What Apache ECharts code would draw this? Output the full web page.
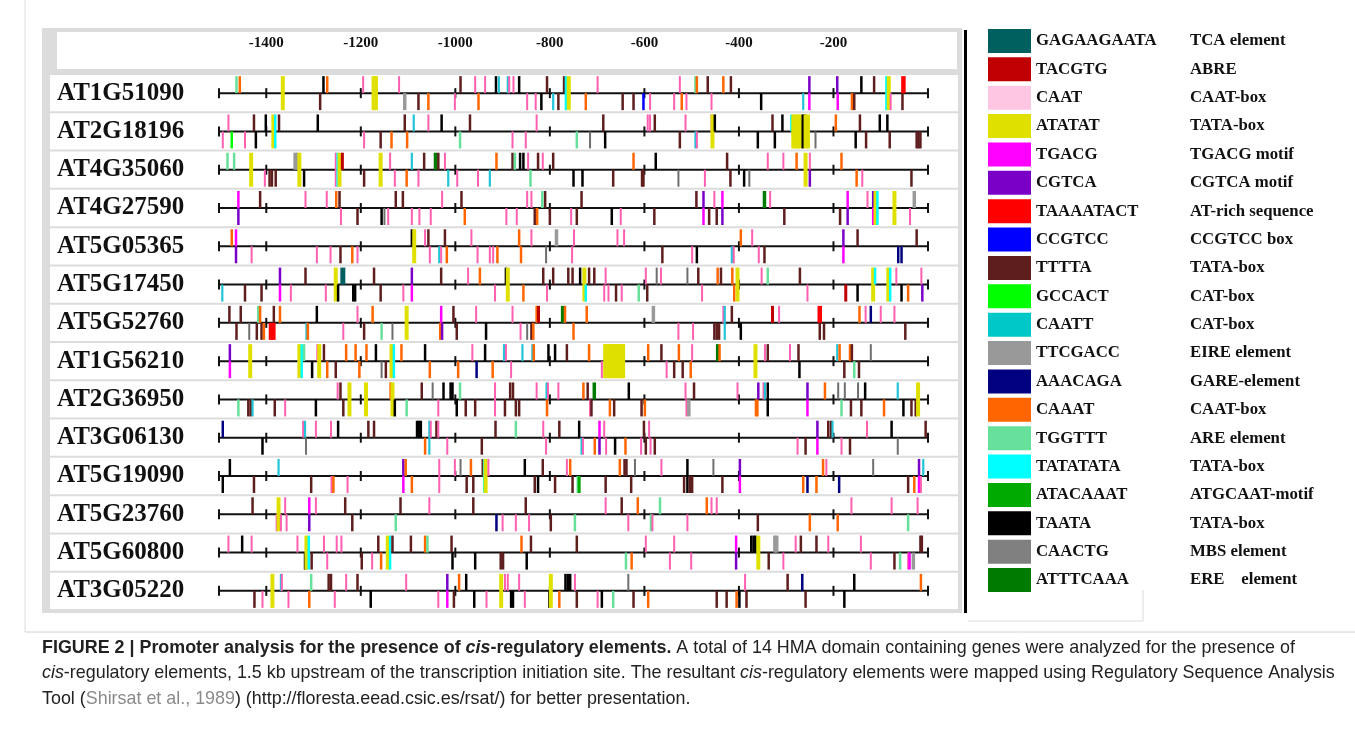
<!DOCTYPE html>
<html>
<head>
<meta charset="utf-8">
<script src="https://cdn.jsdelivr.net/npm/echarts@6/dist/echarts.min.js"></script>
<style>
html, body { margin: 0; padding: 0; background: #fff; }
#chart { width: 1355px; height: 742px; }
</style>
</head>
<body>
<div id="chart"></div>
<script>
const genes = ['AT1G51090', 'AT2G18196', 'AT4G35060', 'AT4G27590', 'AT5G05365', 'AT5G17450', 'AT5G52760',
  'AT1G56210', 'AT2G36950', 'AT3G06130', 'AT5G19090', 'AT5G23760', 'AT5G60800', 'AT3G05220'];
const axisLabels = [-1400, -1200, -1000, -800, -600, -400, -200];
const rowTicks = [-1500, -1400, -1200, -1000, -800, -600, -400, -200, 0];

const motifSeq = ['GAGAAGAATA', 'TACGTG', 'CAAT', 'ATATAT', 'TGACG', 'CGTCA', 'TAAAATACT', 'CCGTCC', 'TTTTA', 'GCCACT',
  'CAATT', 'TTCGACC', 'AAACAGA', 'CAAAT', 'TGGTTT', 'TATATATA', 'ATACAAAT', 'TAATA', 'CAACTG', 'ATTTCAAA'];
const motifName = ['TCA element', 'ABRE', 'CAAT-box', 'TATA-box', 'TGACG motif', 'CGTCA motif', 'AT-rich sequence',
  'CCGTCC box', 'TATA-box', 'CAT-box', 'CAT-box', 'EIRE element', 'GARE-element', 'CAAT-box', 'ARE element',
  'TATA-box', 'ATGCAAT-motif', 'TATA-box', 'MBS element', 'ERE    element'];

// colours: marks in the map, swatches in the key (CAAT is lighter in the key)
const motifColor = ['#005f5f', '#c00000', '#ff5fb0', '#e0e000', '#ff00ff', '#7a00c8', '#ff0000', '#0000ff', '#5e1e1e', '#00ff00',
  '#22c4d8', '#9a9a9a', '#000080', '#ff6600', '#66e09a', '#00ffff', '#00aa00', '#000000', '#6e6e6e', '#007a00'];
const swatchColor = ['#005f5f', '#c00000', '#ffc6e3', '#e0e000', '#ff00ff', '#7a00c8', '#ff0000', '#0000ff', '#5e1e1e', '#00ff00',
  '#00c8c8', '#999999', '#000080', '#ff6600', '#66e09a', '#00ffff', '#00aa00', '#000000', '#808080', '#007a00'];
const markWidth = [5, 3, 2, 4, 2.5, 2.5, 4.5, 2.5, 2.5, 2.5, 2.2, 3.5, 2.5, 2.5, 2.5, 2.5, 3, 2.5, 2, 3.5];

// [position bp, strand (1 upper, -1 lower, 0 both), motif index]
const m_AT1G51090 = [[-1463,1,14],[-1456,1,13],[-1365,0,3],[-1286,-1,8],[-1279,1,17],[-1271,1,13],[-1195,1,2],[-1173,0,3],[-1168,0,3],
  [-1119,1,2],[-1107,-1,11],[-1078,-1,8],[-1057,-1,13],[-1001,-1,2],[-989,1,8],[-958,1,2],[-951,-1,13],[-937,1,2],[-914,1,17],
  [-908,1,10],[-889,1,10],[-886,1,2],[-877,1,2],[-865,1,17],[-848,-1,2],[-830,-1,2],[-818,-1,17],[-806,1,8],[-793,-1,10],
  [-782,-1,8],[-770,1,8],[-766,0,15],[-760,0,3],[-724,-1,13],[-699,1,2],[-646,-1,8],[-623,-1,8],[-602,-1,7],[-588,-1,2],
  [-537,-1,2],[-525,1,2],[-521,-1,13],[-511,-1,2],[-492,1,14],[-489,1,13],[-466,1,8],[-458,-1,2],[-433,1,13],[-417,1,8],
  [-353,-1,17],[-264,-1,10],[-251,1,5],[-251,-1,4],[-192,1,5],[-191,-1,4],[-161,-1,13],[-156,-1,8],[-141,1,17],[-114,1,8],
  [-88,0,15],[-83,0,3],[-79,-1,2],[-54,-1,8],[-52,1,6]];
const m_AT2G18196 = [[-1492,-1,2],[-1480,1,2],[-1473,-1,9],[-1445,-1,2],[-1426,1,8],[-1422,-1,17],[-1401,1,17],[-1385,0,3],
  [-1381,0,15],[-1373,1,8],[-1291,1,17],[-1193,-1,2],[-1158,-1,8],[-1135,-1,13],[-1107,1,8],[-1102,-1,13],[-1088,1,10],
  [-1057,1,2],[-1029,1,17],[-990,-1,14],[-969,1,8],[-879,-1,2],[-851,-1,2],[-828,1,2],[-743,-1,14],[-715,-1,18],[-687,1,8],
  [-683,-1,17],[-593,1,2],[-588,1,2],[-578,1,8],[-525,-1,8],[-513,1,2],[-492,-1,10],[-489,-1,2],[-458,1,2],[-456,0,3],
  [-451,1,17],[-360,-1,17],[-329,1,8],[-324,-1,17],[-308,1,17],[-289,1,15],[-285,0,3],[-280,0,3],[-275,0,3],[-270,0,3],
  [-265,0,17],[-261,1,17],[-259,0,3],[-254,0,3],[-238,-1,18],[-195,1,13],[-153,-1,17],[-144,1,8],[-131,-1,8],[-102,1,17],
  [-86,1,17],[-81,-1,8],[-24,-1,8],[-20,-1,8],[-16,-1,8]];
const m_AT4G35060 = [[-1482,1,14],[-1468,1,14],[-1432,0,3],[-1403,-1,2],[-1393,-1,8],[-1388,-1,8],[-1380,-1,8],[-1339,1,11],
  [-1335,1,11],[-1330,0,3],[-1320,-1,17],[-1253,0,2],[-1249,0,15],[-1245,0,3],[-1239,1,1],[-1193,-1,8],[-1158,0,3],[-1138,1,2],
  [-1128,-1,2],[-1103,-1,13],[-1092,1,10],[-1078,-1,2],[-1066,1,8],[-1042,1,19],[-1036,1,8],[-1022,1,2],[-1015,-1,10],
  [-996,-1,2],[-952,-1,2],[-927,-1,10],[-913,1,13],[-879,1,8],[-874,1,14],[-863,1,17],[-856,1,17],[-846,1,2],[-841,-1,14],
  [-825,1,8],[-815,1,2],[-793,1,8],[-750,-1,17],[-731,-1,17],[-666,-1,8],[-623,1,13],[-605,-1,8],[-602,-1,8],[-576,1,17],
  [-528,-1,18],[-472,-1,2],[-425,1,8],[-418,-1,8],[-389,-1,17],[-378,-1,18],[-339,1,2],[-306,1,2],[-278,1,13],[-259,0,3],
  [-250,1,2],[-250,-1,5],[-183,1,13],[-151,-1,13],[-139,-1,2],[-35,-1,8]];
const m_AT4G27590 = [[-1459,1,4],[-1459,-1,5],[-1413,1,8],[-1317,1,2],[-1272,1,2],[-1252,1,13],[-1245,1,8],[-1242,-1,2],
  [-1207,-1,8],[-1156,-1,17],[-1150,-1,18],[-1142,-1,2],[-1126,1,8],[-1111,1,8],[-1092,-1,2],[-1076,-1,2],[-1052,-1,2],
  [-1028,1,2],[-987,1,8],[-980,-1,13],[-892,-1,2],[-870,-1,2],[-848,1,2],[-839,1,2],[-832,-1,8],[-827,-1,13],[-816,1,14],
  [-810,1,8],[-800,-1,8],[-755,-1,2],[-743,-1,8],[-733,1,8],[-669,-1,17],[-650,-1,2],[-579,-1,8],[-490,1,8],[-475,1,5],
  [-475,-1,4],[-463,-1,8],[-452,1,2],[-447,-1,8],[-435,1,4],[-435,-1,5],[-346,1,19],[-334,1,2],[-304,-1,8],[-186,-1,8],
  [-170,1,4],[-170,-1,5],[-128,1,2],[-116,1,5],[-116,-1,4],[-111,0,3],[-107,0,15],[-71,0,3],[-38,-1,2],[-29,1,11]];
const m_AT5G05365 = [[-1473,1,13],[-1464,1,4],[-1464,-1,5],[-1431,-1,2],[-1293,-1,2],[-1264,-1,2],[-1243,-1,8],[-1218,-1,13],
  [-1207,-1,2],[-1092,1,17],[-1087,0,3],[-1064,1,2],[-1057,1,8],[-1054,-1,2],[-1034,-1,10],[-1030,-1,2],[-1022,1,8],
  [-1018,-1,13],[-966,1,2],[-953,-1,2],[-927,-1,2],[-920,-1,2],[-911,-1,13],[-865,1,13],[-861,-1,13],[-839,1,2],[-808,-1,18],
  [-786,1,11],[-753,-1,2],[-749,1,2],[-657,1,2],[-643,1,2],[-562,-1,8],[-499,-1,2],[-489,-1,17],[-415,-1,10],[-411,-1,2],
  [-396,1,13],[-372,1,2],[-358,-1,2],[-346,-1,8],[-179,1,5],[-179,-1,4],[-149,1,8],[-63,-1,12],[-56,-1,12],[-24,1,8]];
const m_AT5G17450 = [[-1493,-1,10],[-1445,-1,8],[-1410,-1,8],[-1371,1,5],[-1371,-1,4],[-1348,-1,2],[-1317,1,8],[-1274,-1,2],
  [-1253,0,3],[-1248,-1,17],[-1238,1,0],[-1216,-1,17],[-1212,-1,17],[-1172,1,8],[-1158,-1,8],[-1110,-1,2],[-1092,1,5],
  [-1092,-1,4],[-1030,1,8],[-973,1,2],[-948,1,13],[-916,-1,2],[-893,1,17],[-889,0,3],[-856,-1,13],[-814,1,8],[-806,-1,2],
  [-793,1,8],[-761,1,8],[-752,1,8],[-736,1,17],[-727,0,3],[-724,-1,15],[-717,1,8],[-706,1,8],[-685,-1,2],[-682,1,2],
  [-676,-1,2],[-660,-1,8],[-648,-1,2],[-612,-1,14],[-597,1,2],[-594,-1,8],[-574,1,18],[-565,1,2],[-509,1,18],[-486,1,8],
  [-478,-1,2],[-445,1,13],[-438,1,8],[-414,1,13],[-410,-1,13],[-403,0,3],[-352,1,2],[-339,1,14],[-271,1,8],[-255,-1,2],
  [-174,-1,1],[-149,-1,17],[-116,0,3],[-112,1,15],[-84,0,3],[-80,0,15],[-67,1,2],[-56,-1,17],[-42,-1,13],[-14,1,2],[-12,-1,5]];
const m_AT5G52760 = [[-1478,1,8],[-1463,-1,8],[-1454,1,8],[-1436,-1,18],[-1420,-1,8],[-1417,1,14],[-1413,1,13],[-1410,-1,8],
  [-1405,-1,13],[-1384,1,8],[-1390,-1,6],[-1385,-1,6],[-1371,1,13],[-1315,-1,10],[-1312,-1,13],[-1293,1,17],[-1237,-1,2],
  [-1207,1,2],[-1193,-1,8],[-1175,1,13],[-1156,-1,14],[-1133,-1,18],[-1103,0,3],[-1030,1,4],[-1032,-1,13],[-1028,-1,5],
  [-1004,1,8],[-997,-1,8],[-956,1,2],[-935,-1,17],[-879,1,2],[-862,-1,2],[-848,-1,18],[-839,-1,8],[-835,-1,13],[-828,1,13],
  [-824,1,1],[-773,1,19],[-768,1,13],[-750,-1,13],[-722,1,13],[-581,1,11],[-528,-1,2],[-497,-1,2],[-452,-1,8],[-447,-1,8],
  [-442,-1,8],[-433,1,2],[-430,0,10],[-415,1,8],[-396,-1,17],[-329,1,1],[-315,1,2],[-229,1,6],[-229,-1,8],[-220,-1,8],
  [-145,1,13],[-132,1,2],[-121,1,12],[-100,1,2],[-71,1,2],[-48,-1,8]];
const m_AT1G56210 = [[-1477,1,5],[-1477,-1,4],[-1434,0,3],[-1330,0,3],[-1325,0,15],[-1320,1,14],[-1303,-1,17],[-1292,1,2],
  [-1288,0,3],[-1278,1,8],[-1271,-1,13],[-1253,-1,8],[-1231,1,13],[-1211,1,13],[-1203,-1,13],[-1188,1,13],[-1168,1,17],
  [-1156,-1,18],[-1147,-1,8],[-1135,0,3],[-1130,0,15],[-1114,1,13],[-1064,1,17],[-1054,-1,13],[-994,-1,13],[-964,1,2],
  [-955,-1,12],[-937,1,17],[-921,-1,13],[-897,1,10],[-893,1,2],[-882,-1,2],[-858,1,10],[-837,1,10],[-834,1,13],[-803,1,17],
  [-789,1,17],[-764,1,8],[-717,1,13],[-690,-1,2],[-683,0,3],[-679,0,3],[-675,0,3],[-671,0,3],[-667,0,3],[-663,0,3],
  [-659,0,3],[-655,0,3],[-651,0,3],[-647,0,3],[-645,0,3],[-592,1,13],[-564,1,8],[-553,-1,2],[-537,-1,8],[-527,1,13],
  [-519,-1,8],[-502,-1,13],[-499,1,2],[-445,1,19],[-441,1,13],[-365,0,3],[-345,1,2],[-339,1,8],[-292,1,2],[-274,1,8],
  [-272,-1,17],[-192,1,10],[-187,1,13],[-177,-1,8],[-165,1,13],[-161,1,8],[-156,-1,14],[-146,-1,8],[-121,1,18]];
const m_AT2G36950 = [[-1459,-1,14],[-1438,-1,8],[-1433,-1,8],[-1429,-1,10],[-1382,-1,8],[-1360,-1,2],[-1295,-1,17],
  [-1249,1,2],[-1243,1,8],[-1237,-1,8],[-1224,0,3],[-1189,0,3],[-1137,1,13],[-1133,0,3],[-1128,-1,17],[-1103,-1,14],
  [-1071,1,8],[-1048,1,18],[-1036,-1,2],[-1025,1,17],[-1010,1,17],[-1006,1,17],[-997,-1,17],[-990,1,14],[-978,-1,8],
  [-958,-1,8],[-916,0,2],[-895,-1,8],[-884,1,8],[-878,1,8],[-872,-1,8],[-865,-1,8],[-828,1,2],[-807,1,10],[-804,1,2],
  [-806,-1,13],[-782,1,2],[-729,1,13],[-720,1,8],[-715,-1,2],[-712,-1,8],[-706,1,19],[-673,-1,13],[-664,-1,8],[-633,1,17],
  [-606,-1,8],[-599,-1,13],[-513,1,2],[-511,-1,2],[-506,-1,11],[-495,1,8],[-403,1,2],[-364,-1,13],[-361,-1,13],[-359,1,5],
  [-348,1,2],[-345,1,10],[-339,0,17],[-255,1,5],[-255,-1,4],[-218,1,13],[-190,1,18],[-183,-1,14],[-176,1,18],[-163,-1,8],
  [-148,1,18],[-141,-1,8],[-133,1,17],[-93,-1,13],[-64,1,10],[-52,-1,17],[-35,-1,8],[-26,-1,8],[-21,0,3]];
const m_AT3G06130 = [[-1492,1,12],[-1408,-1,17],[-1322,1,2],[-1318,1,10],[-1316,-1,18],[-1295,1,2],[-1263,1,2],[-1248,1,17],
  [-1184,1,8],[-1172,1,8],[-1081,1,17],[-1077,1,17],[-1073,1,17],[-1064,-1,13],[-1055,0,10],[-1052,1,2],[-1040,1,8],
  [-1036,1,2],[-1017,-1,2],[-944,-1,8],[-915,1,8],[-872,1,14],[-814,1,2],[-808,-1,2],[-780,1,8],[-738,1,17],[-733,-1,10],
  [-730,-1,2],[-705,-1,13],[-695,1,4],[-695,-1,5],[-685,1,2],[-681,-1,2],[-662,-1,17],[-640,-1,13],[-607,-1,2],[-601,1,8],
  [-597,-1,8],[-590,1,2],[-587,-1,2],[-578,-1,8],[-276,-1,2],[-259,-1,8],[-234,1,5],[-234,-1,4],[-211,1,8],[-205,1,8],
  [-202,1,10],[-183,-1,2],[-165,-1,8],[-129,1,2],[-77,1,17],[-64,-1,18],[-5,1,8]];
const m_AT5G19090 = [[-1492,-1,17],[-1477,1,17],[-1426,-1,8],[-1374,1,10],[-1305,-1,8],[-1262,-1,2],[-1258,-1,13],
  [-1228,-1,2],[-1110,1,5],[-1110,-1,4],[-1105,1,13],[-1092,-1,13],[-1034,0,2],[-1001,1,2],[-989,1,18],[-976,-1,8],
  [-967,1,13],[-962,-1,8],[-942,1,8],[-939,0,15],[-936,0,3],[-930,1,2],[-853,1,17],[-832,-1,8],[-825,-1,17],[-815,1,8],
  [-789,-1,8],[-764,1,2],[-757,1,13],[-752,-1,8],[-741,-1,14],[-738,-1,16],[-682,-1,8],[-652,1,13],[-642,1,8],[-638,1,8],
  [-628,-1,8],[-620,1,18],[-564,1,2],[-516,-1,8],[-509,1,17],[-509,-1,17],[-504,-1,8],[-499,-1,8],[-454,1,18],[-435,-1,8],
  [-398,1,5],[-398,-1,4],[-264,-1,13],[-255,-1,12],[-236,-1,13],[-222,1,13],[-215,1,2],[-188,-1,12],[-116,1,18],[-42,-1,8],
  [-29,-1,13],[-19,1,5],[-19,-1,4],[-15,-1,2],[-10,1,10]];
const m_AT5G23760 = [[-1429,1,8],[-1378,-1,2],[-1374,0,3],[-1369,-1,2],[-1360,1,2],[-1357,-1,2],[-1309,1,4],[-1309,-1,5],
  [-1295,1,2],[-1233,1,8],[-1218,-1,8],[-1126,-1,14],[-1116,1,8],[-1055,1,2],[-962,1,8],[-913,-1,12],[-900,-1,2],
  [-872,-1,2],[-851,1,8],[-844,-1,2],[-798,-1,8],[-747,-1,14],[-682,1,2],[-648,1,8],[-634,-1,2],[-614,1,13],[-586,-1,14],
  [-583,-1,2],[-567,1,14],[-509,-1,2],[-468,1,13],[-458,1,2],[-447,1,2],[-360,-1,8],[-250,-1,13],[-191,-1,13],[-162,1,2],
  [-77,1,2],[-42,-1,14],[-22,1,2]];
const m_AT5G60800 = [[-1480,1,2],[-1451,1,17],[-1431,1,2],[-1334,1,2],[-1318,-1,17],[-1315,0,3],[-1310,0,15],[-1304,-1,8],
  [-1278,1,2],[-1271,-1,2],[-1251,1,2],[-1241,1,2],[-1198,-1,8],[-1176,-1,2],[-1163,1,8],[-1157,-1,13],[-1143,0,3],
  [-1138,0,15],[-1133,1,8],[-1094,1,8],[-1064,1,13],[-1059,1,14],[-1008,1,8],[-1006,-1,17],[-958,-1,17],[-904,-1,8],
  [-899,-1,8],[-860,1,13],[-849,-1,17],[-840,1,8],[-743,1,8],[-639,-1,14],[-627,-1,13],[-597,1,2],[-546,-1,2],[-537,1,2],
  [-501,-1,2],[-406,1,4],[-406,-1,5],[-374,1,17],[-369,1,17],[-365,1,17],[-359,0,3],[-337,-1,8],[-324,1,11],[-320,1,11],
  [-306,-1,2],[-280,1,2],[-269,1,8],[-236,1,8],[-211,1,2],[-142,1,2],[-121,-1,2],[-71,-1,8],[-59,-1,14],[-42,-1,2],
  [-39,-1,4],[-31,-1,11],[-16,1,8],[-13,1,8]];
const m_AT3G05220 = [[-1425,-1,8],[-1408,-1,2],[-1387,0,3],[-1369,1,10],[-1367,1,2],[-1353,-1,2],[-1309,-1,13],[-1305,1,14],
  [-1268,1,8],[-1263,1,8],[-1255,-1,2],[-1231,1,2],[-1207,1,8],[-1179,-1,17],[-1104,1,2],[-1036,-1,2],[-1017,1,5],
  [-1017,-1,4],[-1003,-1,8],[-992,1,13],[-977,1,17],[-960,-1,17],[-934,-1,2],[-903,0,3],[-895,1,2],[-889,1,2],[-882,-1,17],
  [-878,-1,17],[-865,1,2],[-853,-1,2],[-801,-1,17],[-798,0,3],[-780,-1,13],[-767,1,17],[-762,1,17],[-757,1,17],[-747,1,2],
  [-743,-1,8],[-699,-1,2],[-690,-1,17],[-666,-1,14],[-634,1,18],[-623,-1,8],[-592,-1,13],[-447,-1,8],[-426,-1,8],
  [-405,-1,13],[-399,-1,17],[-387,1,2],[-384,-1,8],[-297,1,8],[-266,1,12],[-259,-1,8],[-177,-1,17],[-156,1,17],[-15,1,13]];

const geneMarks = [m_AT1G51090, m_AT2G18196, m_AT4G35060, m_AT4G27590, m_AT5G05365, m_AT5G17450, m_AT5G52760,
  m_AT1G56210, m_AT2G36950, m_AT3G06130, m_AT5G19090, m_AT5G23760, m_AT5G60800, m_AT3G05220];

const serif = "'Liberation Serif', 'Times New Roman', serif";
const sans = "'Liberation Sans', Arial, sans-serif";
const markData = [];
geneMarks.forEach((list, row) => list.forEach(m => markData.push([m[0], row, m[1], m[2]])));
const rowData = genes.map((g, i) => [0, i]);

function renderStrip(params, api) {
  const c = api.coord([0, api.value(1)]);
  const band = api.size([0, 1])[1];
  return { type: 'rect', shape: { x: 50, y: c[1] - band / 2 + 1, width: 908, height: band - 2 }, style: { fill: '#fff' } };
}

function renderRow(params, api) {
  const row = api.value(1);
  const a = api.coord([-1500, row]);
  const b = api.coord([0, row]);
  const children = [{ type: 'line', shape: { x1: a[0], y1: a[1], x2: b[0], y2: b[1] }, style: { stroke: '#111', lineWidth: 2 } }];
  rowTicks.forEach(t => {
    const p = api.coord([t, row]);
    children.push({ type: 'line', shape: { x1: p[0], y1: p[1] - 5, x2: p[0], y2: p[1] + 5 }, style: { stroke: '#111', lineWidth: 2 } });
  });
  return { type: 'group', children: children };
}

function renderMark(params, api) {
  const p = api.coord([api.value(0), api.value(1)]);
  const strand = api.value(2);
  const t = api.value(3);
  const w = markWidth[t];
  const h = 17;
  const y0 = strand === -1 ? p[1] : p[1] - h;
  return {
    type: 'rect',
    shape: { x: p[0] - w / 2, y: y0, width: w, height: strand === 0 ? 2 * h : h },
    style: { fill: motifColor[t] }
  };
}

const legendEls = [];
motifSeq.forEach((s, i) => {
  const yc = 41 + i * 28.37;
  legendEls.push({ type: 'rect', z: 5, shape: { x: 988, y: yc - 12, width: 43, height: 24 }, style: { fill: swatchColor[i] } });
  legendEls.push({ type: 'text', z: 5, x: 1036, y: yc, style: { text: s, font: 'bold 16.8px ' + serif, fill: '#111', textVerticalAlign: 'middle' } });
  legendEls.push({ type: 'text', z: 5, x: 1190, y: yc, style: { text: motifName[i], font: 'bold 16.8px ' + serif, fill: '#111', textVerticalAlign: 'middle' } });
});

const cap = 17.9;
const lh = 25.5;
const caption = '{b|FIGURE 2 | Promoter analysis for the presence of }{bi|cis}{b|-regulatory elements.} A total of 14 HMA domain containing genes were analyzed for the presence of\n' +
  '{i|cis}-regulatory elements, 1.5 kb upstream of the transcription initiation site. The resultant {i|cis}-regulatory elements were mapped using Regulatory Sequence Analysis\n' +
  'Tool ({g|Shirsat et al., 1989}) (http://floresta.eead.csic.es/rsat/) for better presentation.';

const chart = echarts.init(document.getElementById('chart'), null, { renderer: 'canvas' });
chart.setOption({
  animation: false,
  backgroundColor: '#fff',
  grid: { left: 219, top: 74, width: 709, height: 536 },
  xAxis: [{
    type: 'value', position: 'top', offset: 14, min: -1500, max: 0, z: 10,
    axisLine: { lineStyle: { color: '#333', width: 2.5 } },
    axisTick: { customValues: axisLabels, length: 5, lineStyle: { color: '#333', width: 2 } },
    axisLabel: { customValues: axisLabels, formatter: v => String(v), margin: 9, color: '#111', fontFamily: serif, fontWeight: 'bold', fontSize: 15 },
    splitLine: { show: false }
  }, {
    type: 'value', position: 'top', offset: 14, min: -1500, max: 0, z: 10,
    axisLine: { show: false },
    axisTick: { customValues: axisLabels, inside: true, length: 4, lineStyle: { color: '#333', width: 2 } },
    axisLabel: { show: false },
    splitLine: { show: false }
  }],
  yAxis: {
    type: 'category', data: genes, inverse: true, z: 10,
    axisLine: { show: false }, axisTick: { show: false }, splitLine: { show: false },
    axisLabel: { align: 'left', margin: 162, color: '#111', fontFamily: serif, fontWeight: 'bold', fontSize: 25 }
  },
  graphic: [
    { type: 'rect', z: -10, shape: { x: 42, y: 28, width: 920, height: 585 }, style: { fill: '#dcdcdc' } },
    { type: 'rect', z: -9, shape: { x: 57, y: 32, width: 900, height: 37 }, style: { fill: '#fff' } },
    { type: 'rect', z: 5, shape: { x: 964, y: 30, width: 3, height: 583 }, style: { fill: '#000' } },
    { type: 'line', z: 5, shape: { x1: 25, y1: 0, x2: 25, y2: 632 }, style: { stroke: '#dcdcdc', lineWidth: 1 } },
    { type: 'line', z: 5, shape: { x1: 25, y1: 632, x2: 1355, y2: 632 }, style: { stroke: '#d0d0d0', lineWidth: 1 } },
    { type: 'polyline', z: 5, shape: { points: [[968, 621], [1143, 621], [1143, 590]] }, style: { stroke: '#dadada', lineWidth: 1, fill: null } },
    {
      type: 'text', z: 5, x: 42, y: 635,
      style: {
        text: caption, fill: '#222', font: cap + 'px ' + sans, lineHeight: lh,
        rich: {
          b: { fontWeight: 'bold', fontSize: cap, fontFamily: sans, fill: '#222', lineHeight: lh },
          bi: { fontWeight: 'bold', fontStyle: 'italic', fontSize: cap, fontFamily: sans, fill: '#222', lineHeight: lh },
          i: { fontStyle: 'italic', fontSize: cap, fontFamily: sans, fill: '#222', lineHeight: lh },
          g: { fontSize: cap, fontFamily: sans, fill: '#8a8a8a', lineHeight: lh }
        }
      }
    }
  ].concat(legendEls),
  series: [
    { type: 'custom', name: 'strips', renderItem: renderStrip, data: rowData, encode: { x: 0, y: 1 }, silent: true, z: 1 },
    { type: 'custom', name: 'rows', renderItem: renderRow, data: rowData, encode: { x: 0, y: 1 }, silent: true, z: 2 },
    { type: 'custom', name: 'elements', renderItem: renderMark, data: markData, encode: { x: 0, y: 1 }, z: 3 }
  ]
});
</script>
</body>
</html>
